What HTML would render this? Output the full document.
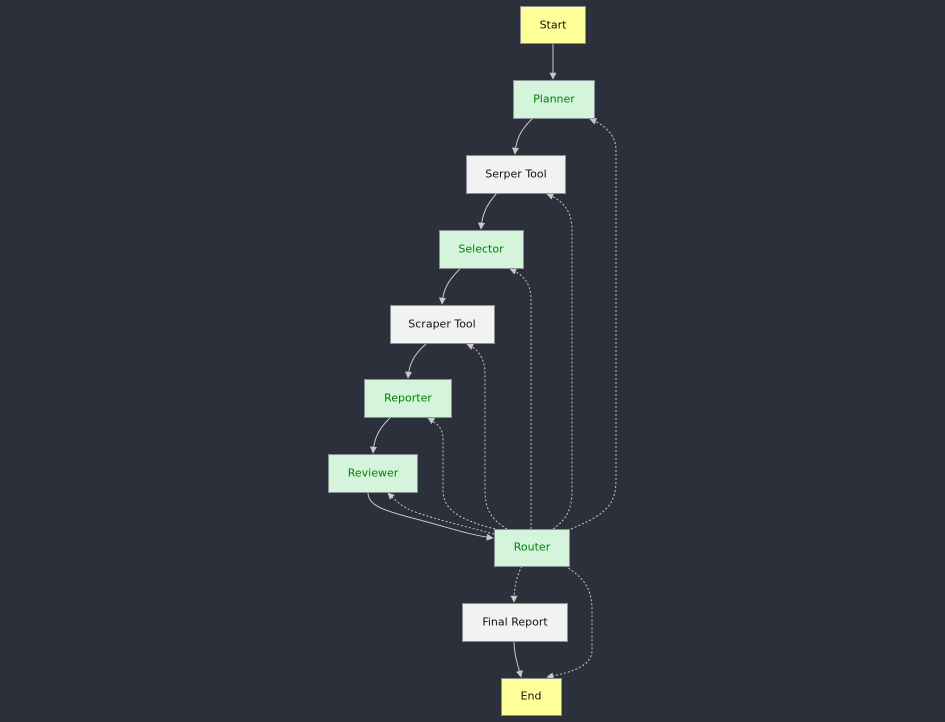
<!DOCTYPE html>
<html><head><style>
body{margin:0;background:#2b303b;}
svg{display:block}
text{font-family:"DejaVu Sans","Liberation Sans",sans-serif;font-size:11px;text-anchor:middle;dominant-baseline:central}
.e{fill:none;stroke:#c8c8c8;stroke-width:1}
.d{fill:none;stroke:#c8c8c8;stroke-width:1;stroke-dasharray:2,2}
</style></head><body>
<svg width="945" height="722" viewBox="0 0 945 722">
<defs><marker id="a" viewBox="0 0 10 10" refX="9" refY="5" markerWidth="7" markerHeight="7" orient="auto"><path d="M0,0L10,5L0,10z" fill="#c8c8c8"/></marker></defs>
<g>
<path class="e" marker-end="url(#a)" d="M553,43V79"/>
<path class="e" marker-end="url(#a)" d="M533,118C520,130 516,140 515,154"/>
<path class="e" marker-end="url(#a)" d="M497,193C486,205 482,215 481,229"/>
<path class="e" marker-end="url(#a)" d="M461,268C448,280 443,290 442,304"/>
<path class="e" marker-end="url(#a)" d="M427,343C413,355 409,365 408,378"/>
<path class="e" marker-end="url(#a)" d="M391,417C378,429 374,439 373,453"/>
<path class="e" marker-end="url(#a)" d="M368,492C368,505 380,510 420,520C450,528 470,535 493,538"/>
<path class="e" marker-end="url(#a)" d="M514,641C514,655 518,665 521,677"/>
<path class="d" marker-end="url(#a)" d="M571,529C605,515 616,505 616,480V150C616,135 605,125 590,119"/>
<path class="d" marker-end="url(#a)" d="M553,529C566,520 572,510 572,490V230C572,210 562,200 547,194"/>
<path class="d" marker-end="url(#a)" d="M531,529V300C531,285 525,275 510,269"/>
<path class="d" marker-end="url(#a)" d="M507,529C492,520 485,510 485,490V375C485,360 480,350 467,344"/>
<path class="d" marker-end="url(#a)" d="M495,529C460,520 443,510 443,490V440C443,430 440,425 428,418"/>
<path class="d" marker-end="url(#a)" d="M494,534C460,525 430,518 410,510C400,505 395,500 388,493"/>
<path class="d" marker-end="url(#a)" d="M522,566C516,578 514,588 514,602"/>
<path class="d" marker-end="url(#a)" d="M565,566C585,578 592,590 592,610V650C592,665 575,672 547,677"/>
</g>
<g stroke="#8a8f98" stroke-width="1">
<rect x="520.5" y="6.5" width="65" height="37" fill="#ffff99"/>
<rect x="513.5" y="80.5" width="81" height="38" fill="#d4f5dc"/>
<rect x="466.5" y="155.5" width="99" height="38" fill="#f2f2f2"/>
<rect x="439.5" y="230.5" width="84" height="38" fill="#d4f5dc"/>
<rect x="390.5" y="305.5" width="104" height="38" fill="#f2f2f2"/>
<rect x="364.5" y="379.5" width="87" height="38" fill="#d4f5dc"/>
<rect x="328.5" y="454.5" width="89" height="38" fill="#d4f5dc"/>
<rect x="494.5" y="529.5" width="75" height="37" fill="#d4f5dc"/>
<rect x="462.5" y="603.5" width="105" height="38" fill="#f2f2f2"/>
<rect x="501.5" y="678.5" width="60" height="37" fill="#ffff99"/>
</g>
<text x="553" y="25" fill="#111">Start</text>
<text x="554" y="99" fill="#008000">Planner</text>
<text x="516" y="174" fill="#111">Serper Tool</text>
<text x="481" y="249" fill="#008000">Selector</text>
<text x="442" y="324" fill="#111">Scraper Tool</text>
<text x="408" y="398" fill="#008000">Reporter</text>
<text x="373" y="473" fill="#008000">Reviewer</text>
<text x="532" y="547" fill="#008000">Router</text>
<text x="515" y="622" fill="#111">Final Report</text>
<text x="531" y="696" fill="#111">End</text>
</svg>
</body></html>
